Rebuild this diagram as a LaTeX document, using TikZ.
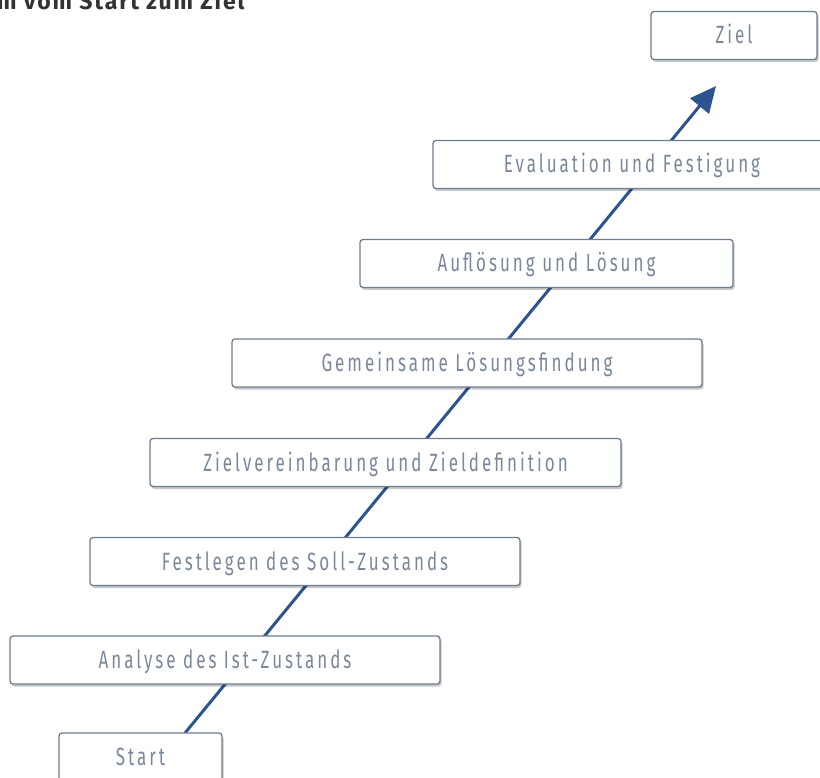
\documentclass[tikz,border=0pt]{standalone}
\usepackage{fontspec}
\setmainfont{Fira Sans}
\newfontfamily\boxfont[FakeStretch=0.68,LetterSpace=12]{Fira Sans}
\newfontfamily\titlefont[LetterSpace=8]{Fira Sans}
\usetikzlibrary{arrows.meta,shadows}
\definecolor{boxline}{HTML}{6E7C8F}
\definecolor{boxtext}{HTML}{7A889B}
\definecolor{arrowblue}{HTML}{2E5490}
\definecolor{titlegray}{HTML}{333333}
\begin{document}
\begin{tikzpicture}[x=1pt,y=-1pt,
  stepbox/.style={draw=boxline, line width=1.3pt, fill=white, rounded corners=3pt,
    minimum height=48pt, inner sep=0pt, text height=20pt, text depth=3pt,
    font=\boxfont\fontsize{25}{27}\selectfont,
    text=boxtext,
    drop shadow={shadow xshift=1.5pt, shadow yshift=-2.5pt, opacity=0.22, fill=black}},
  flow/.style={draw=arrowblue, line width=3pt, -{Triangle[length=26pt,width=24pt]}}]
\useasboundingbox (0,0) rectangle (820,778);
\clip (0,0) rectangle (820,778);
\node[anchor=base west, font=\titlefont\bfseries\fontsize{23}{26}\selectfont, text=titlegray, inner sep=0pt] (title) at (-3,10) {m vom Start zum Ziel};
\coordinate (tail) at (185,733);
\coordinate (tip) at (716,86);
\draw[flow] (tail) -- (tip);
\node[stepbox, minimum width=166pt] (ziel) at (734,35.5) {Ziel};
\node[stepbox, minimum width=398pt] (eval) at (632,164.5) {Evaluation und Festigung};
\node[stepbox, minimum width=373pt] (aufl) at (546.5,263.5) {Auflösung und Lösung};
\node[stepbox, minimum width=470pt] (gem) at (467,363) {Gemeinsame Lösungsfindung};
\node[stepbox, minimum width=471pt] (zv) at (385.5,462.5) {Zielvereinbarung und Zieldefinition};
\node[stepbox, minimum width=430pt] (fest) at (305,561.5) {Festlegen des Soll-Zustands};
\node[stepbox, minimum width=430pt] (ana) at (225,660) {Analyse des Ist-Zustands};
\node[stepbox, minimum width=163pt] (start) at (140.5,757) {Start};
\end{tikzpicture}
\end{document}
